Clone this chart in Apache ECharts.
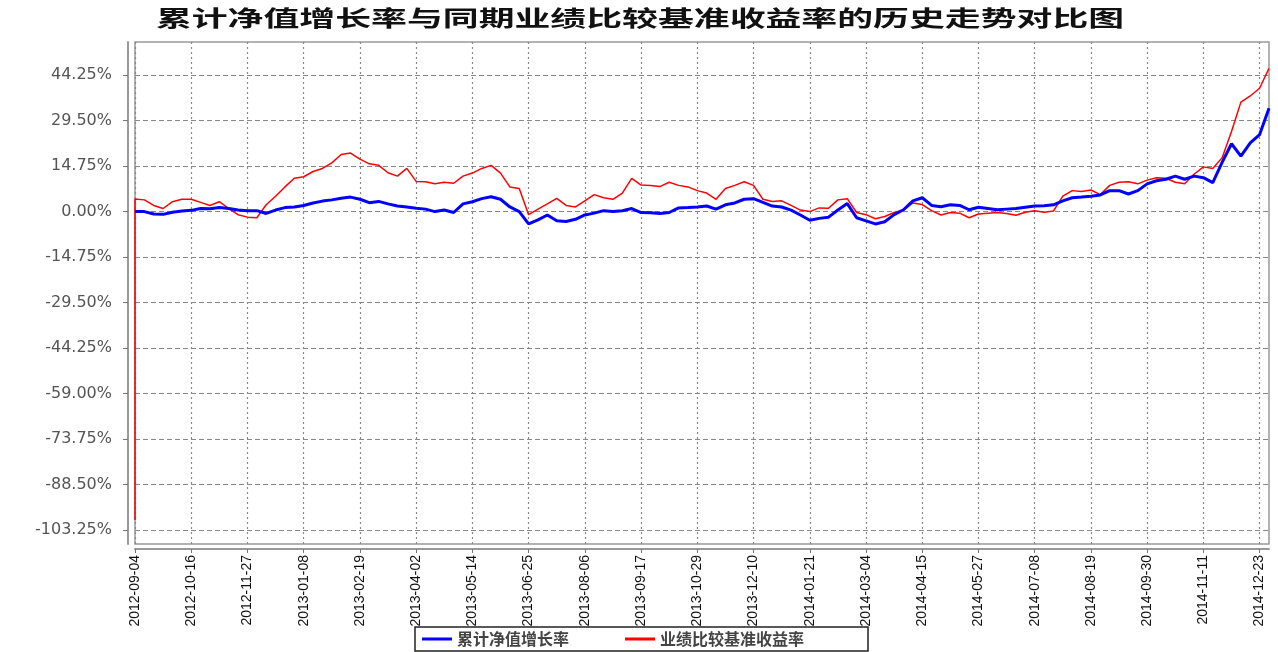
<!DOCTYPE html>
<html>
<head>
<meta charset="utf-8">
<title>累计净值增长率与同期业绩比较基准收益率的历史走势对比图</title>
<script src="https://cdn.jsdelivr.net/npm/echarts@6.0.0/dist/echarts.min.js"></script>
<style>
  html, body { margin: 0; padding: 0; background: #fff; }
  #chart { width: 1278px; height: 652px; }
</style>
</head>
<body>
<div id="chart"></div>
<script>
    // weekly categories from 2012-09-04 to 2014-12-30
    const dates = [];
    const d0 = Date.UTC(2012, 8, 4);
    for (let i = 0; i < 122; i++) {
        dates.push(new Date(d0 + i * 7 * 86400000).toISOString().slice(0, 10));
    }

    const tickLabels = [
        '2012-09-04', '2012-10-16', '2012-11-27', '2013-01-08', '2013-02-19', '2013-04-02',
        '2013-05-14', '2013-06-25', '2013-08-06', '2013-09-17', '2013-10-29', '2013-12-10',
        '2014-01-21', '2014-03-04', '2014-04-15', '2014-05-27', '2014-07-08', '2014-08-19',
        '2014-09-30', '2014-11-11', '2014-12-23'
    ];

    const yTicks = [-103.25, -88.5, -73.75, -59, -44.25, -29.5, -14.75, 0, 14.75, 29.5, 44.25];

    // 累计净值增长率 (%), one reading per week
    const navGrowth = [
        0, 0, -0.8, -0.9, -0.2, 0.2, 0.4, 1.0, 0.9, 1.3,
        1.0, 0.5, 0.3, 0.3, -0.6, 0.5, 1.3, 1.5, 2.0, 2.8,
        3.4, 3.8, 4.3, 4.7, 4.0, 2.9, 3.3, 2.5, 1.8, 1.5,
        1.1, 0.8, 0.0, 0.5, -0.3, 2.5, 3.2, 4.2, 4.8, 4.0,
        1.5, 0.0, -4.0, -2.7, -1.1, -3.0, -3.2, -2.5, -1.1, -0.5,
        0.3, 0.0, 0.3, 1.0, -0.3, -0.4, -0.6, -0.3, 1.2, 1.3,
        1.5, 1.8, 0.8, 2.2, 2.8, 4.0, 4.2, 3.0, 1.8, 1.5,
        0.5, -1.1, -2.8, -2.2, -1.8, 0.5, 2.6, -2.0, -3.0, -4.0,
        -3.3, -1.0, 0.6, 3.5, 4.5, 2.0, 1.6, 2.2, 2.0, 0.6,
        1.4, 1.0, 0.6, 0.8, 1.0, 1.4, 1.8, 1.9, 2.2, 3.5,
        4.5, 4.7, 5.0, 5.4, 6.8, 6.8, 5.7, 6.8, 9.0, 10.0,
        10.5, 11.5, 10.5, 11.5, 11.0, 9.4, 16.0, 22.0, 18.0, 22.3,
        25.0, 33.5
    ];

    // 业绩比较基准收益率 (%), one reading per week
    const benchmarkStart = -100;
    const benchmark = [
        4.1, 3.8, 2.0, 1.0, 3.2, 4.0, 4.0, 3.0, 2.0, 3.2,
        1.0, -1.0, -1.8, -2.0, 2.2, 5.0, 8.0, 10.8, 11.3, 13.0,
        14.0, 15.8, 18.5, 19.0, 17.0, 15.5, 15.0, 12.6, 11.5, 14.0,
        9.8, 9.7, 9.0, 9.5, 9.2, 11.5, 12.5, 14.0, 15.0, 12.5,
        8.0, 7.5, -1.0, 0.8, 2.5, 4.3, 2.0, 1.5, 3.5, 5.5,
        4.5, 4.0, 6.0, 10.8, 8.6, 8.5, 8.1, 9.5, 8.5, 8.0,
        6.8, 6.0, 4.0, 7.5, 8.5, 9.7, 8.5, 4.0, 3.3, 3.5,
        2.0, 0.5, 0.0, 1.2, 1.1, 3.8, 4.2, -0.3, -1.0, -2.3,
        -1.6, -0.3, 0.5, 2.8, 2.3, 0.3, -1.1, -0.3, -0.5, -2.0,
        -0.8, -0.5, -0.3, -0.6, -1.2, -0.2, 0.3, -0.2, 0.2, 5.0,
        6.8, 6.5, 7.0, 5.5, 8.5, 9.5, 9.7, 9.0, 10.2, 11.0,
        10.8, 9.5, 9.0, 12.1, 14.5, 14.0, 17.5, 26.0, 35.5, 37.5,
        40.0, 46.5
    ];

    const title = '累计净值增长率与同期业绩比较基准收益率的历史走势对比图';
    const names = ['累计净值增长率', '业绩比较基准收益率'];

    const benchData = [[dates[0], benchmarkStart]].concat(benchmark.map((v, i) => [dates[i], v]));
    const isTick = (idx, val) => tickLabels.indexOf(val) >= 0;

    const myChart = echarts.init(document.getElementById('chart'));

    const option = {
        animation: false,
        backgroundColor: '#fff',
        graphic: [{
            type: 'text',
            x: 640,
            y: 7,
            scaleX: 1.63,
            style: {
                text: title,
                textAlign: 'center',
                fill: '#111',
                font: 'bold 22px "Noto Sans CJK SC"'
            }
        }],
        legend: {
            data: names,
            bottom: 1,
            left: 415,
            borderColor: '#222',
            borderWidth: 1.5,
            padding: [4, 64, 4, 7],
            itemGap: 56,
            itemWidth: 30,
            itemHeight: 3,
            icon: 'rect',
            textStyle: {
                fontFamily: 'Noto Sans CJK SC',
                fontWeight: 'bold',
                fontSize: 16,
                color: '#444'
            }
        },
        grid: {
            left: 135,
            right: 9,
            top: 42,
            bottom: 108,
            show: true,
            borderColor: '#999',
            borderWidth: 1.5
        },
        xAxis: {
            type: 'category',
            data: dates,
            boundaryGap: false,
            offset: 5,
            axisLine: { onZero: false, lineStyle: { color: '#999', width: 2 } },
            axisTick: { interval: isTick, length: 4, lineStyle: { color: '#777' } },
            axisLabel: {
                interval: isTick,
                rotate: 90,
                margin: 6,
                fontFamily: 'Liberation Sans',
                fontSize: 14,
                color: '#111'
            },
            splitLine: {
                show: true,
                interval: isTick,
                lineStyle: { color: '#888', type: [2, 3], width: 1.2 }
            }
        },
        yAxis: {
            type: 'value',
            min: -107.8,
            max: 55,
            offset: 7,
            axisLine: { show: true, lineStyle: { color: '#999', width: 2 } },
            axisTick: { show: true, length: 5, customValues: yTicks, lineStyle: { color: '#777' } },
            axisLabel: {
                customValues: yTicks,
                margin: 16,
                fontFamily: 'DejaVu Sans',
                fontSize: 16,
                color: '#555',
                formatter: v => v.toFixed(2) + '%'
            },
            splitLine: {
                show: true,
                lineStyle: { color: '#888', type: [5, 3], width: 1.2 }
            }
        },
        series: [
            {
                name: names[1],
                type: 'line',
                data: benchData,
                showSymbol: false,
                lineStyle: { color: '#ff0000', width: 1.5 },
                itemStyle: { color: '#ff0000' }
            },
            {
                name: names[0],
                type: 'line',
                data: navGrowth,
                showSymbol: false,
                lineStyle: { color: '#0000ff', width: 3 },
                itemStyle: { color: '#0000ff' }
            }
        ]
    };

    myChart.setOption(option);
</script>
</body>
</html>
